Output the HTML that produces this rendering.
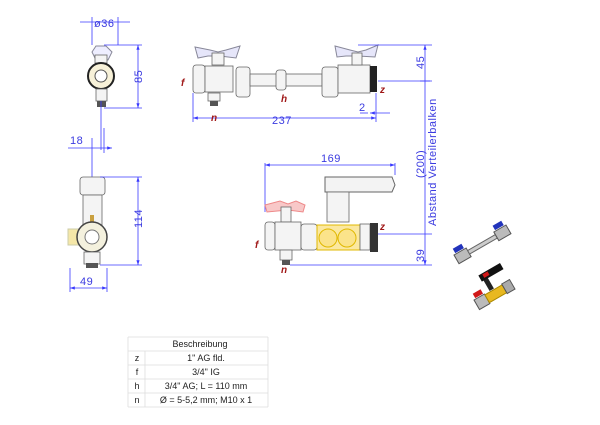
<!DOCTYPE html>
<html><head><meta charset="utf-8"><style>
html,body{margin:0;padding:0;background:#fff;width:600px;height:425px;overflow:hidden}
svg{display:block}
.d{stroke:#3a3aff;stroke-width:0.8;fill:none}
.t{font-family:"Liberation Sans",sans-serif;fill:#3a3ae0;font-size:11px;letter-spacing:0.5px}
.r{font-family:"Liberation Sans",sans-serif;fill:#a01818;font-size:10px;font-weight:bold;font-style:italic}
.o{stroke:#666;stroke-width:0.8;fill:#f4f4f4}
.tb{font-family:"Liberation Sans",sans-serif;fill:#222;font-size:9px}
</style></head><body>
<svg width="600" height="425" viewBox="0 0 600 425" xmlns="http://www.w3.org/2000/svg">
<defs>
<marker id="a" markerWidth="6" markerHeight="6" refX="6" refY="3" orient="auto-start-reverse"><path d="M0,1 L6,3 L0,5z" fill="#3a3aff"/></marker>
</defs>
<!-- top-left view -->
<line class="d" x1="80" y1="22" x2="130" y2="22"/>
<line class="d" x1="92" y1="17" x2="92" y2="45"/><line class="d" x1="118" y1="17" x2="118" y2="45"/>
<text class="t" x="94" y="27">ø36</text>
<path d="M96,46 L106,46 L112,52 L108,60 L96,60 L92,52z" fill="#eef" stroke="#889"/>
<rect class="o" x="95" y="55" width="12" height="8"/>
<circle cx="101" cy="76" r="13" fill="#f7f1d8" stroke="#222" stroke-width="2"/>
<circle cx="101" cy="76" r="6" fill="#fff" stroke="#555"/>
<rect class="o" x="96" y="89" width="11" height="12"/>
<rect x="97" y="101" width="9" height="6" fill="#555"/>
<line class="d" x1="101" y1="101" x2="101" y2="150"/>
<line class="d" x1="104" y1="45" x2="142" y2="45"/><line class="d" x1="104" y1="108" x2="142" y2="108"/>
<line class="d" x1="138" y1="45" x2="138" y2="108" marker-start="url(#a)" marker-end="url(#a)"/>
<text class="t" transform="translate(142,83) rotate(-90)">85</text>
<!-- top middle -->
<line class="d" x1="193" y1="93" x2="193" y2="122"/>
<line class="d" x1="193" y1="118" x2="376" y2="118" marker-start="url(#a)" marker-end="url(#a)"/>
<text class="t" x="272" y="124">237</text>
<line class="d" x1="376" y1="93" x2="376" y2="122"/>
<line class="d" x1="370" y1="113" x2="390" y2="113" marker-start="url(#a)"/>
<line class="d" x1="368" y1="113" x2="360" y2="113"/>
<text class="t" x="359" y="111">2</text>
<path d="M195,47 L210,50 L218,52 L226,50 L240,46 L236,58 L220,56 L208,56 L198,58z" fill="#e6e6fa" stroke="#889"/>
<rect class="o" x="212" y="53" width="12" height="12"/>
<rect class="o" x="193" y="65" width="12" height="28" rx="3"/>
<rect class="o" x="205" y="66" width="28" height="26"/>
<rect class="o" x="208" y="93" width="12" height="8"/><rect x="210" y="101" width="8" height="5" fill="#555"/>
<rect class="o" x="236" y="67" width="14" height="30" rx="3"/>
<rect class="o" x="250" y="74" width="72" height="12"/>
<rect class="o" x="276" y="70" width="10" height="20" rx="3"/>
<rect class="o" x="322" y="67" width="16" height="30" rx="3"/>
<rect class="o" x="338" y="65" width="32" height="28"/>
<rect x="370" y="66" width="7" height="26" fill="#222"/>
<path d="M335,46 L350,50 L358,52 L366,50 L378,45 L375,57 L358,56 L346,56 L337,57z" fill="#e6e6fa" stroke="#889"/>
<rect class="o" x="352" y="53" width="10" height="12"/>
<text class="r" x="181" y="86">f</text>
<text class="r" x="281" y="102">h</text>
<text class="r" x="211" y="121">n</text>
<text class="r" x="380" y="93">z</text>
<line class="d" x1="358" y1="45" x2="432" y2="45"/>
<line class="d" x1="378" y1="81" x2="432" y2="81"/>
<line class="d" x1="425" y1="45" x2="425" y2="265" marker-start="url(#a)" marker-end="url(#a)"/>
<line class="d" x1="420" y1="81" x2="430" y2="81"/>
<text class="t" transform="translate(424,69) rotate(-90)">45</text>
<text class="t" transform="translate(424,178) rotate(-90)">(200)</text>
<text class="t" transform="translate(436,226) rotate(-90)">Abstand Verteilerbalken</text>
<!-- middle left -->
<line class="d" x1="68" y1="148" x2="112" y2="148" marker-end="url(#a)"/>
<line class="d" x1="92" y1="138" x2="92" y2="215"/>
<line class="d" x1="104" y1="128" x2="104" y2="153"/>
<text class="t" x="70" y="144">18</text>
<rect class="o" x="80" y="177" width="25" height="18" rx="3"/>
<rect class="o" x="83" y="195" width="19" height="30"/>
<rect x="90" y="215" width="4" height="8" fill="#c9a040"/>
<rect x="68" y="229" width="12" height="16" fill="#f5e7a8" stroke="#cca"/>
<circle cx="92" cy="237" r="15" fill="#f4f1de" stroke="#444" stroke-width="1.5"/>
<circle cx="92" cy="237" r="7" fill="#fff" stroke="#777"/>
<rect class="o" x="84" y="252" width="16" height="12"/><rect x="86" y="263" width="12" height="5" fill="#555"/>
<line class="d" x1="100" y1="177" x2="142" y2="177"/><line class="d" x1="100" y1="265" x2="142" y2="265"/>
<line class="d" x1="138" y1="177" x2="138" y2="265" marker-start="url(#a)" marker-end="url(#a)"/>
<text class="t" transform="translate(142,228) rotate(-90)">114</text>
<line class="d" x1="70" y1="268" x2="70" y2="292"/><line class="d" x1="107" y1="268" x2="107" y2="292"/>
<line class="d" x1="70" y1="288" x2="107" y2="288" marker-start="url(#a)" marker-end="url(#a)"/>
<text class="t" x="80" y="285">49</text>
<!-- middle right -->
<line class="d" x1="265" y1="163" x2="265" y2="212"/><line class="d" x1="395" y1="163" x2="395" y2="175"/>
<line class="d" x1="265" y1="165" x2="395" y2="165" marker-start="url(#a)" marker-end="url(#a)"/>
<text class="t" x="321" y="162">169</text>
<path d="M325,177 L392,177 L395,185 L392,192 L325,192z" fill="#f3f3f3" stroke="#666"/>
<rect class="o" x="327" y="192" width="22" height="30"/>
<path d="M265,205 L280,201 L288,204 L296,201 L305,205 L303,212 L288,210 L267,212z" fill="#f8c8c8" stroke="#e88"/>
<rect class="o" x="281" y="207" width="10" height="15"/>
<rect class="o" x="265" y="222" width="10" height="28" rx="3"/>
<rect class="o" x="275" y="222" width="26" height="28"/>
<rect class="o" x="301" y="224" width="16" height="26" rx="3"/>
<rect x="317" y="225" width="43" height="25" fill="#fbe8a0" stroke="#e0b800"/>
<circle cx="328" cy="238" r="9" fill="#fbe38a" stroke="#e0b800"/>
<circle cx="347" cy="238" r="9" fill="#fbe38a" stroke="#e0b800"/>
<rect class="o" x="360" y="224" width="10" height="26"/>
<rect x="370" y="223" width="8" height="29" fill="#333"/>
<rect class="o" x="280" y="250" width="12" height="10"/><rect x="282" y="260" width="8" height="5" fill="#555"/>
<text class="r" x="380" y="230">z</text>
<text class="r" x="255" y="248">f</text>
<text class="r" x="281" y="273">n</text>
<line class="d" x1="378" y1="234" x2="432" y2="234"/>
<line class="d" x1="290" y1="265" x2="432" y2="265"/>
<text class="t" transform="translate(424,262) rotate(-90)">39</text>
<!-- photos -->
<g transform="translate(454,255) rotate(-30)">
<rect x="0" y="0" width="14" height="10" fill="#bbb" stroke="#555"/><rect x="14" y="3" width="32" height="4" fill="#ccc" stroke="#666"/><rect x="46" y="0" width="14" height="10" fill="#bbb" stroke="#555"/>
<rect x="2" y="-6" width="10" height="5" fill="#2233bb"/><rect x="48" y="-6" width="10" height="5" fill="#2233bb"/>
</g>
<g transform="translate(474,300) rotate(-30)">
<rect x="0" y="0" width="12" height="11" fill="#bbb" stroke="#555"/><rect x="12" y="1" width="20" height="9" fill="#e8b820" stroke="#a80"/><rect x="32" y="0" width="9" height="11" fill="#aaa" stroke="#555"/>
<rect x="2" y="-6" width="9" height="5" fill="#d01818"/><rect x="18" y="-13" width="5" height="13" fill="#222"/><rect x="16" y="-19" width="25" height="7" fill="#111"/><rect x="20" y="-18" width="6" height="4" fill="#d01818"/>
</g>
<!-- table -->
<g stroke="#ddd" stroke-width="0.8">
<line x1="128" y1="337" x2="268" y2="337"/><line x1="128" y1="351" x2="268" y2="351"/><line x1="128" y1="365" x2="268" y2="365"/><line x1="128" y1="379" x2="268" y2="379"/><line x1="128" y1="393" x2="268" y2="393"/><line x1="128" y1="407" x2="268" y2="407"/>
<line x1="128" y1="337" x2="128" y2="407"/><line x1="145" y1="351" x2="145" y2="407"/><line x1="268" y1="337" x2="268" y2="407"/>
</g>
<text class="tb" x="200" y="347" text-anchor="middle">Beschreibung</text>
<text class="tb" x="137" y="361" text-anchor="middle">z</text><text class="tb" x="206" y="361" text-anchor="middle">1" AG fld.</text>
<text class="tb" x="137" y="375" text-anchor="middle">f</text><text class="tb" x="206" y="375" text-anchor="middle">3/4" IG</text>
<text class="tb" x="137" y="389" text-anchor="middle">h</text><text class="tb" x="206" y="389" text-anchor="middle">3/4" AG; L = 110 mm</text>
<text class="tb" x="137" y="403" text-anchor="middle">n</text><text class="tb" x="206" y="403" text-anchor="middle">Ø = 5-5,2 mm; M10 x 1</text>
</svg>
</body></html>
